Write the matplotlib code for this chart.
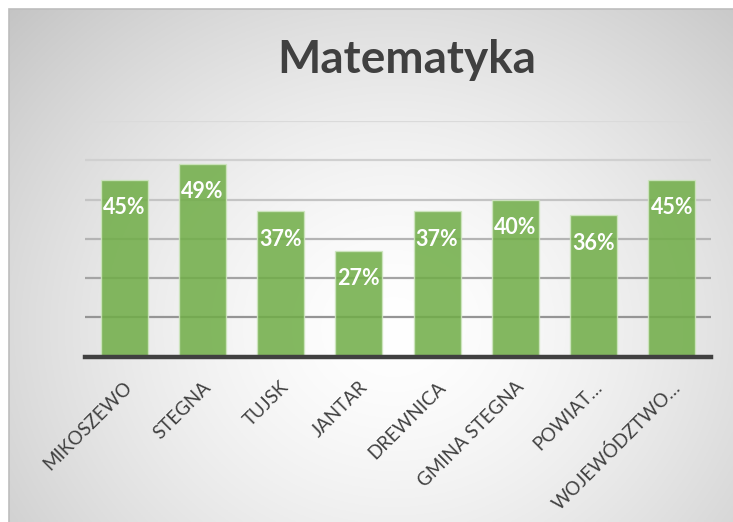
import numpy as np
import matplotlib
matplotlib.use("Agg")
import matplotlib.pyplot as plt
from matplotlib.patches import Rectangle

categories = ["MIKOSZEWO", "STEGNA", "TUJSK", "JANTAR", "DREWNICA",
              "GMINA STEGNA", "POWIAT…", "WOJEWÓDZTWO…"]
values = [45, 49, 37, 27, 37, 40, 36, 45]
value_labels = ["45%", "49%", "37%", "27%", "37%", "40%", "36%", "45%"]
grid_levels = [10, 20, 30, 40, 50, 60]
title = "Matematyka"

W, H = 733, 522
fig = plt.figure(figsize=(W / 100, H / 100), dpi=100)
fig.patch.set_facecolor("white")

# background panel with radial gradient
bx0, by0 = 9 / W, 0.0
bg = fig.add_axes([bx0, by0, 1 - bx0, 1 - 9 / H], zorder=0)
ny, nx = 300, 400
yy, xx = np.mgrid[0:ny, 0:nx]
cx, cy = 0.53 * nx, 0.62 * ny
r = np.sqrt(((xx - cx) / nx) ** 2 + ((yy - cy) / ny * 0.8) ** 2)
r = r / r.max()
val = 1.0 - 0.23 * np.clip(r, 0, 1) ** 1.5
img = np.dstack([val, val, val])
bg.imshow(img, aspect="auto", extent=[0, 1, 0, 1], origin="upper")
bg.set_xlim(0, 1)
bg.set_ylim(0, 1)
bg.axis("off")
fig.add_artist(Rectangle((bx0, -0.01), 1.0, 1 - 9 / H + 0.01, transform=fig.transFigure,
                         fill=False, edgecolor="#bdbdbd", linewidth=1.2, zorder=1))

# main axes
left, right = 85 / W, 711 / W
bottom, top = (H - 356.7) / H, (H - 121) / H
ax = fig.add_axes([left, bottom, right - left, top - bottom], zorder=2)
ax.patch.set_alpha(0)
x = np.arange(len(categories))
ax.set_xlim(-0.5, len(categories) - 0.5)
ax.set_ylim(0, 60)

grid_colors = ["#959595", "#a4a4a4", "#b4b4b4", "#c4c4c4", "#d0d0d0", "#dadada"]
for lvl, col in zip(grid_levels, grid_colors):
    ax.axhline(lvl, color=col, linewidth=1.6, zorder=1)

ax.bar(x, values, width=0.6, color="#70AD47", alpha=0.86,
       edgecolor="#cfe6c0", linewidth=1.0, zorder=2)
ax.axhline(0, color="#404040", linewidth=3.2, zorder=3, clip_on=False)

for xi, v, lab in zip(x, values, value_labels):
    ax.annotate(lab, (xi, v), xytext=(0, -20), textcoords="offset points",
                ha="center", va="center", color="white", fontsize=15.5,
                fontweight="bold", family="Lato", zorder=4)

for s in ax.spines.values():
    s.set_visible(False)
ax.set_yticks([])
ax.set_xticks(x)
ax.set_xticklabels([])
ax.tick_params(axis="x", length=0)
for xi, lab in zip(x, categories):
    ax.annotate(lab, (xi, 0), xytext=(4, -20), textcoords="offset points",
                ha="right", va="center", rotation=45, rotation_mode="anchor",
                fontsize=13.5, color="#404040", family="Lato", annotation_clip=False)

fig.text(407 / W, 1 - 60 / H, title, ha="center", va="center", fontsize=33,
         fontweight="bold", color="#404040", family="Lato")

fig.savefig("out.png", dpi=100)
